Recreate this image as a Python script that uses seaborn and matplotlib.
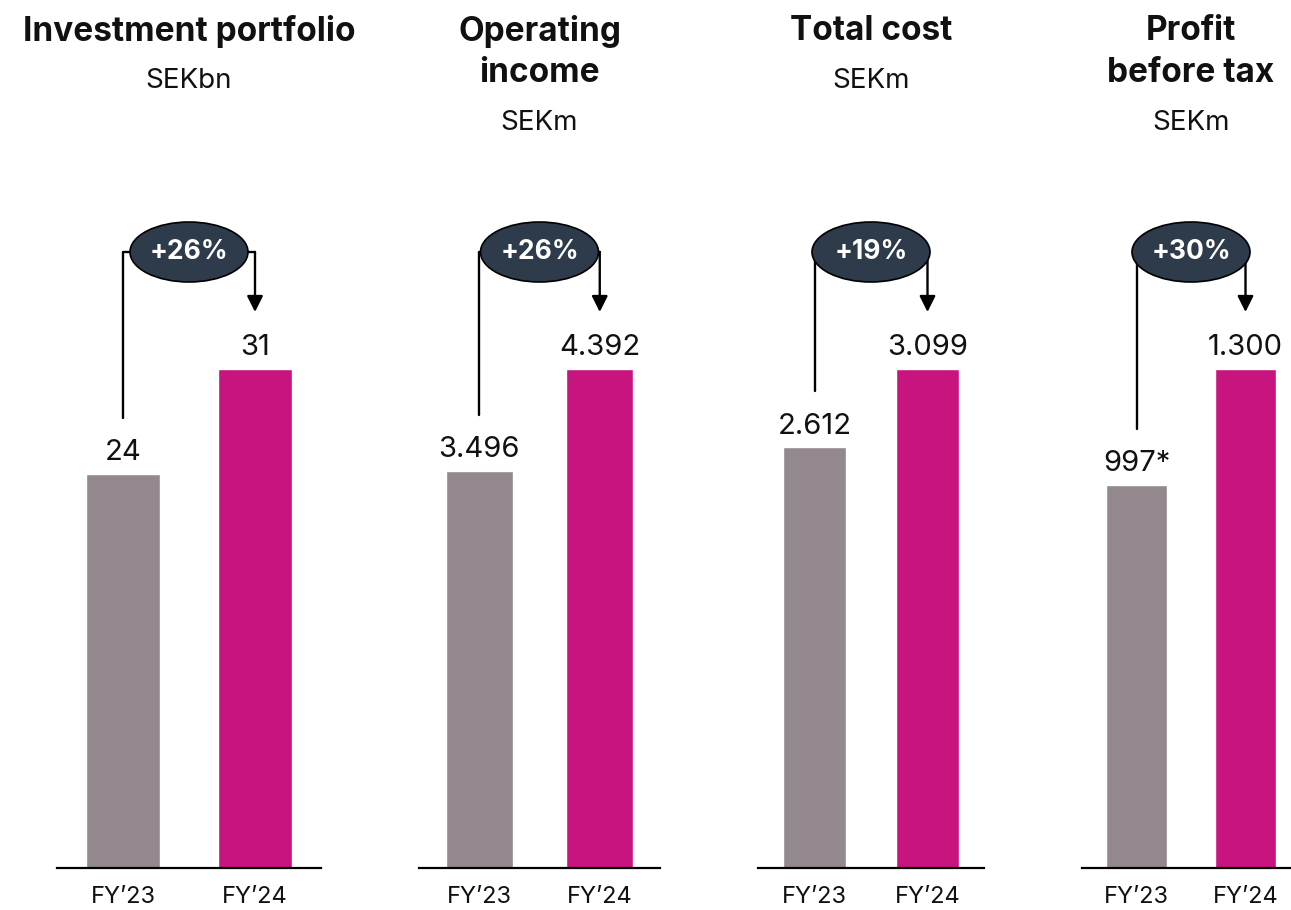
import matplotlib.pyplot as plt
import seaborn as sns
import pandas as pd
from matplotlib.patches import Ellipse

YEARS = ["FY\u201923", "FY\u201924"]
TITLES = ["Investment portfolio", "Operating\nincome", "Total cost", "Profit\nbefore tax"]
UNITS = ["SEKbn", "SEKm", "SEKm", "SEKm"]
FY23 = [24.5, 3496, 2612, 997]
FY24 = [31, 4392, 3099, 1300]
FY23_LABELS = ["24", "3.496", "2.612", "997*"]
FY24_LABELS = ["31", "4.392", "3.099", "1.300"]
GROWTH = ["+26%", "+26%", "+19%", "+30%"]

GRAY = '#94888f'
PINK = '#c8147e'
DARK = '#2e3b4a'

W, H = 1291, 910
BASE = 868          # baseline, pixels from top
BAR_PX = 499        # pixel height of the FY'24 bar
PANELS = [(57, 264), (419, 241), (758, 226), (1082, 218)]  # left, width in px

sns.set_theme(style="white")
plt.rcParams['font.family'] = ['Inter', 'DejaVu Sans']

fig = plt.figure(figsize=(W / 100, H / 100), dpi=100)

for i, (left, width) in enumerate(PANELS):
    ax = fig.add_axes([left / W, (H - BASE) / H, width / W, BASE / H])
    df = pd.DataFrame({'Year': YEARS, 'Value': [FY23[i], FY24[i]]})
    sns.barplot(data=df, x='Year', y='Value', hue='Year', palette=[GRAY, PINK],
                saturation=1, width=0.56, legend=False, ax=ax)

    top = FY24[i]
    ax.set_xlim(-0.5, 1.5)
    ax.set_ylim(0, top * BASE / BAR_PX)

    def yd(ypix):
        return (BASE - ypix) / BAR_PX * top

    for s in ['top', 'right', 'left']:
        ax.spines[s].set_visible(False)
    ax.spines['bottom'].set_color('black')
    ax.spines['bottom'].set_linewidth(1.6)
    ax.set_yticks([])
    ax.set_xlabel('')
    ax.set_ylabel('')
    ax.tick_params(axis='x', length=0, pad=13, labelsize=17, labelcolor='#111111')

    # value labels
    for x, (v, lab) in enumerate(zip([FY23[i], FY24[i]], [FY23_LABELS[i], FY24_LABELS[i]])):
        ax.annotate(lab, (x, v), xytext=(0, 10), textcoords='offset points',
                    ha='center', va='baseline', fontsize=21, color='#111111')

    # bracket + arrow
    yc = yd(252)
    gray_top_px = BASE - FY23[i] / top * BAR_PX
    ybot = yd(gray_top_px - 56)
    ax.plot([0, 0, 1], [ybot, yc, yc], color='black', lw=1.7, zorder=2, clip_on=False)
    ax.annotate('', xy=(1, yd(312)), xytext=(1, yc),
                arrowprops=dict(arrowstyle='-|>,head_width=0.4,head_length=0.8',
                                color='black', lw=1.7, shrinkA=0, shrinkB=0),
                zorder=2)
    ell = Ellipse((0.5, yc), width=118 / (width / 2), height=60 / BAR_PX * top,
                  facecolor=DARK, edgecolor='black', lw=1.2, zorder=3, clip_on=False)
    ax.add_patch(ell)
    ax.text(0.5, yc, GROWTH[i], ha='center', va='center', color='white',
            fontsize=19, fontweight='bold', zorder=4)

    # titles
    cx = (left + width / 2) / W
    lines = TITLES[i].split('\n')
    for j, line in enumerate(lines):
        fig.text(cx, 1 - (31 + 42 * j) / H, line, ha='center', va='center',
                 fontsize=24, fontweight='bold', color='#111111')
    fig.text(cx, 1 - (31 + 42 * (len(lines) - 1) + 50) / H, UNITS[i], ha='center',
             va='center', fontsize=20, color='#111111')

fig.savefig('out.png', dpi=100, facecolor='white')
